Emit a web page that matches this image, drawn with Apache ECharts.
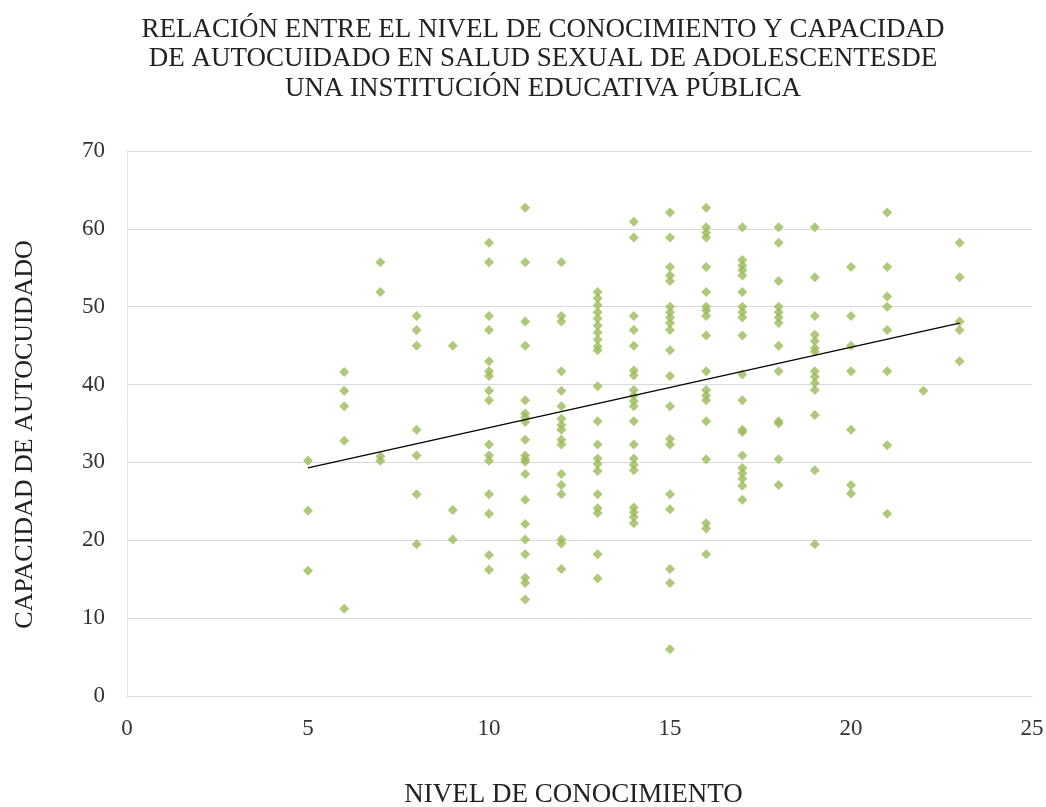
<!DOCTYPE html>
<html>
<head>
<meta charset="utf-8">
<script src="https://cdn.jsdelivr.net/npm/echarts@6/dist/echarts.min.js"></script>
<style>
html,body{margin:0;padding:0;background:#fff;}
#chart{width:1046px;height:807px;}
</style>
</head>
<body>
<div id="chart"></div>
<script>
// Nivel de conocimiento (x) and the capacidad values read at each level
const niveles = [5, 6, 7, 8, 9, 10, 11, 12, 13, 14, 15, 16, 17, 18, 19, 20, 21, 22, 23];
const c5  = [30.2, 23.8, 16.1];
const c6  = [41.6, 39.2, 37.2, 32.8, 11.2];
const c7  = [55.7, 51.9, 30.8, 30.2];
const c8  = [48.8, 47, 45, 34.2, 30.9, 25.9, 19.5];
const c9  = [45, 23.9, 20.1];
const c10 = [58.2, 55.7, 48.8, 47, 43, 41.7, 41.1, 39.2, 38, 32.3, 30.9, 30.2, 25.9, 23.4, 18.1, 16.2];
const c11 = [62.7, 55.7, 48.1, 45, 38, 36.3, 35.8, 35.2, 32.9, 30.9, 30.4, 30.1, 28.5, 25.2, 22.1, 20.1, 18.2, 15.2, 14.5, 12.4];
const c12 = [55.7, 48.8, 48.1, 41.7, 39.2, 37.2, 35.6, 34.8, 34.2, 32.9, 32.3, 28.5, 27.1, 25.9, 20.1, 19.6, 16.3];
const c13 = [51.9, 51.1, 50.2, 49.3, 48.5, 47.6, 46.7, 45.8, 44.9, 44.4, 39.8, 35.3, 32.3, 30.5, 29.8, 28.9, 25.9, 24.1, 23.5, 18.2, 15.1];
const c14 = [60.9, 58.9, 48.8, 47, 45, 41.8, 41.2, 39.3, 38.6, 37.9, 37.2, 35.3, 32.3, 30.5, 29.7, 29, 24.2, 23.6, 23, 22.2];
const c15 = [62.1, 58.9, 55.1, 54, 53.3, 50, 49.3, 48.6, 47.9, 47, 44.4, 41.1, 37.2, 33, 32.3, 25.9, 24, 16.3, 14.5, 6];
const c16 = [62.7, 60.2, 59.5, 58.9, 55.1, 51.9, 50, 49.5, 48.8, 46.3, 41.7, 39.3, 38.6, 38, 35.3, 30.4, 22.2, 21.5, 18.2];
const c17 = [60.2, 56, 55.3, 54.7, 54, 51.9, 50, 49.3, 48.6, 46.3, 41.3, 38, 34.2, 33.9, 30.9, 29.3, 28.6, 27.9, 27, 25.2];
const c18 = [60.2, 58.2, 53.3, 50, 49.3, 48.6, 47.9, 45, 41.7, 35.3, 35, 30.4, 27.1];
const c19 = [60.2, 53.8, 48.8, 46.4, 45.6, 44.7, 44.2, 41.7, 41, 40.2, 39.3, 36.1, 29, 19.5];
const c20 = [55.1, 48.8, 45, 41.7, 34.2, 27.1, 26];
const c21 = [62.1, 55.1, 51.3, 50, 47, 41.7, 32.2, 23.4];
const c22 = [39.2];
const c23 = [58.2, 53.8, 48.1, 47, 43];
const columnas = [c5, c6, c7, c8, c9, c10, c11, c12, c13, c14, c15, c16, c17, c18, c19, c20, c21, c22, c23];

// linear trend line endpoints
const tendenciaX = [5, 23];
const tendenciaY = [29.3, 47.9];

const titulo = 'RELACIÓN ENTRE EL NIVEL DE CONOCIMIENTO Y CAPACIDAD\nDE AUTOCUIDADO EN SALUD SEXUAL DE ADOLESCENTESDE\nUNA INSTITUCIÓN EDUCATIVA PÚBLICA';
const nombreX = 'NIVEL DE CONOCIMIENTO';
const nombreY = 'CAPACIDAD DE AUTOCUIDADO';

const puntos = [];
niveles.forEach((x, i) => columnas[i].forEach(y => puntos.push([x, y])));
const tendencia = tendenciaX.map((x, i) => [x, tendenciaY[i]]);

const serif = '"Liberation Serif", "Times New Roman", serif';
const chart = echarts.init(document.getElementById('chart'));
chart.setOption({
  animation: false,
  backgroundColor: '#ffffff',
  title: {
    text: titulo,
    left: 538,
    textAlign: 'center',
    top: 10,
    textStyle: { fontFamily: serif, fontSize: 27, fontWeight: 'normal', color: '#222', lineHeight: 29.5 }
  },
  grid: { left: 127, right: 14, top: 151, bottom: 111, containLabel: false, outerBoundsMode: 'none' },
  xAxis: {
    type: 'value', min: 0, max: 25, interval: 5,
    name: nombreX, nameLocation: 'middle', nameGap: 85,
    nameTextStyle: { fontFamily: serif, fontSize: 27, color: '#222', padding: [0, 12, 0, 0] },
    axisLine: { show: true, lineStyle: { color: '#d9d9d9', width: 1 } },
    axisTick: { show: false },
    splitLine: { show: false },
    axisLabel: { fontFamily: serif, fontSize: 23, color: '#333', margin: 21 }
  },
  yAxis: {
    type: 'value', min: 0, max: 70, interval: 10,
    name: nombreY, nameLocation: 'middle', nameGap: 89,
    nameTextStyle: { fontFamily: serif, fontSize: 26, color: '#222', padding: [0, 22, 0, 0] },
    axisLine: { show: true, lineStyle: { color: '#e4e4e4', width: 1 } },
    axisTick: { show: false },
    splitLine: { show: true, lineStyle: { color: '#d9d9d9', width: 1 } },
    axisLabel: { fontFamily: serif, fontSize: 23, color: '#333', margin: 22 }
  },
  series: [
    {
      type: 'scatter', data: puntos, symbol: 'diamond', symbolSize: 10,
      itemStyle: { color: '#9bbb59' }
    },
    {
      type: 'line', data: tendencia, symbol: 'none',
      lineStyle: { color: '#000', width: 1.2 }
    }
  ]
});
</script>
</body>
</html>
